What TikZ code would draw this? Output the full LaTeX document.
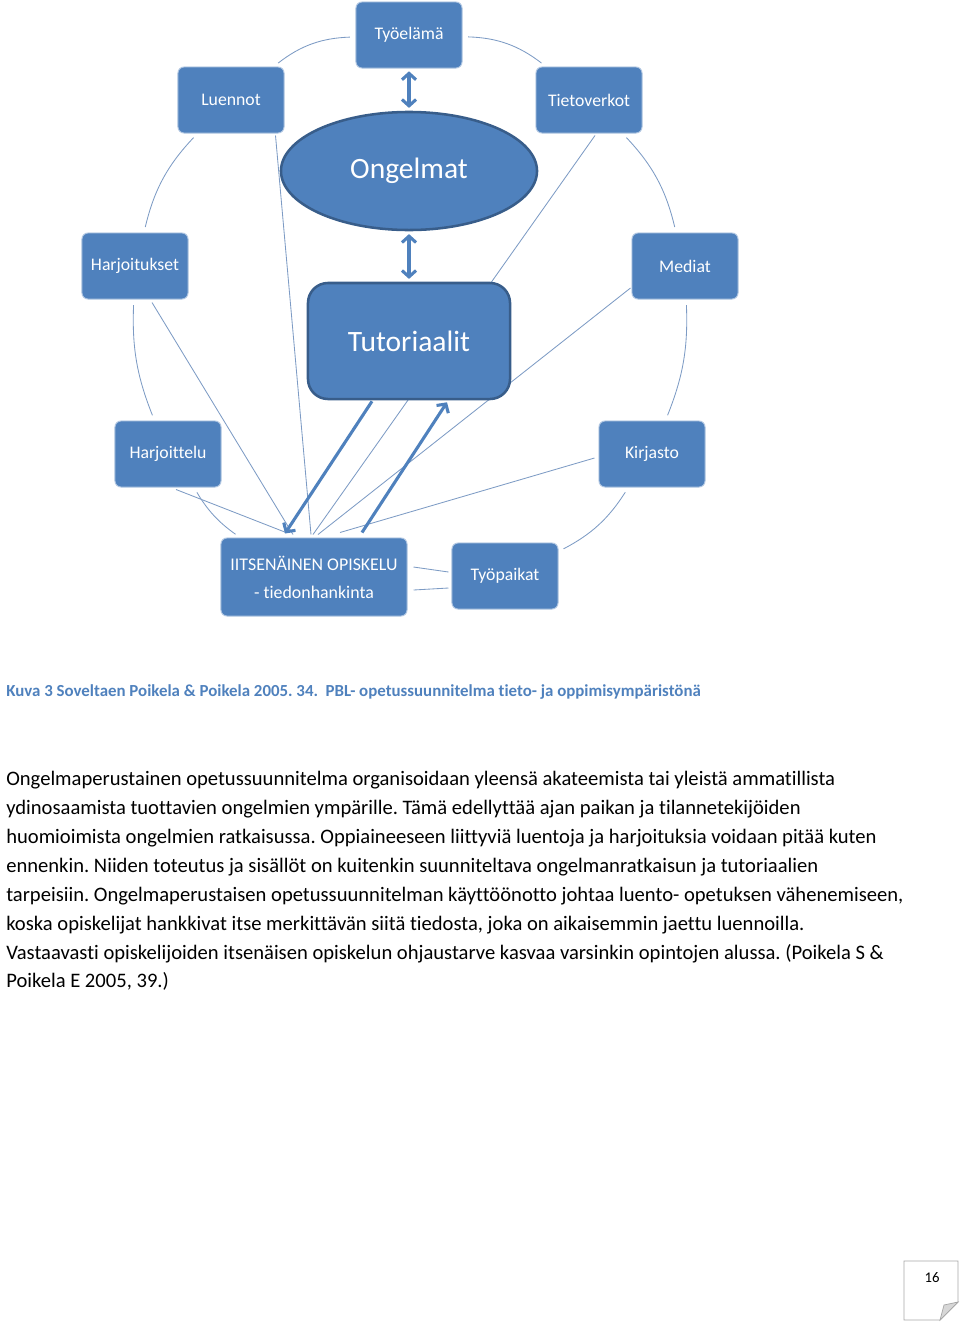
\documentclass[tikz,border=0pt]{standalone}
\usepackage{fontspec}
\setmainfont{Carlito}[Ligatures=CommonOff]
\frenchspacing
\usetikzlibrary{shapes.geometric, arrows.meta, positioning, calc, backgrounds}
\definecolor{boxblue}{HTML}{4F81BD}
\definecolor{edgeblue}{HTML}{385D8A}
\definecolor{ringblue}{HTML}{7D9BC4}
\definecolor{pagegray}{HTML}{A6A6A6}

\begin{document}
\begin{tikzpicture}[%
    x=0.025cm, y=-0.025cm,
    every node/.style={%
      font=\fontsize{12.6}{15}\selectfont
    },
    topic/.style={draw=white!55!boxblue, line width=0.7pt, fill=boxblue,
      rounded corners=0.15cm, text=white, inner sep=0pt,
      minimum width=2.65cm, minimum height=1.65cm},
    core/.style={draw=edgeblue, line width=1.8pt, fill=boxblue, text=white,
      inner sep=0pt, font=\fontsize{21}{24}\selectfont},
    ring/.style={draw=ringblue, line width=0.6pt, shorten >=4pt, shorten <=4pt},
    spoke/.style={draw=ringblue, line width=0.6pt},
    flow/.style={draw=boxblue, line width=2.2pt,
      -{Straight Barb[length=4.5pt,width=10pt]}},
    twoway/.style={draw=boxblue, line width=2.2pt, shorten >=2pt, shorten <=2pt,
      {Straight Barb[length=4.5pt,width=10pt]}-{Straight Barb[length=4.5pt,width=10pt]}},
    body/.style={anchor=west, inner sep=0pt, text height=1.6ex, text depth=0.45ex,
      font=\fontsize{14.65}{17}\selectfont}
  ]
  \useasboundingbox (0,0) rectangle (960,1322);

  \node[topic] (tyoelama) at (409,35) {Työelämä};
  \node[topic] (luennot) at (231,100) {Luennot};
  \node[topic] (tietoverkot) at (589,100) {Tietoverkot};
  \node[topic] (harjoitukset) at (135,266) {Harjoitukset};
  \node[topic] (mediat) at (685,266) {Mediat};
  \node[topic] (harjoittelu) at (168,454) {Harjoittelu};
  \node[topic] (kirjasto) at (652,454) {Kirjasto};
  \node[topic] (tyopaikat) at (505,576) {Työpaikat};
  \node[topic, minimum width=4.65cm, minimum height=1.95cm, align=center,
    font=\fontsize{12.7}{19.9}\selectfont]
    (opiskelu) at (314,577)
    {IITSENÄINEN OPISKELU\\- tiedonhankinta};

  \node[core, ellipse, minimum width=6.4cm, minimum height=2.95cm]
    (ongelmat) at (409,171) {Ongelmat};
  \node[core, rounded corners=0.5cm, minimum width=5.05cm, minimum height=2.9cm]
    (tutoriaalit) at (409,341) {Tutoriaalit};

  \begin{scope}[on background layer]
    % ring
    \draw[ring] (tyoelama) to[bend right=18] (luennot);
    \draw[ring] (luennot) to[bend right=15] (harjoitukset);
    \draw[ring] (harjoitukset) to[bend right=12] (harjoittelu);
    \draw[ring] (harjoittelu) to[bend right=12] (opiskelu);
    \draw[ring] (tyopaikat) to[bend right=15] (kirjasto);
    \draw[ring] (kirjasto) to[bend right=12] (mediat);
    \draw[ring] (mediat) to[bend right=15] (tietoverkot);
    \draw[ring] (tietoverkot) to[bend right=18] (tyoelama);
    \draw[spoke] ($(opiskelu.east)+(6,-10)$) -- ($(tyopaikat.west)+(-3,-4)$);
    \draw[spoke] ($(opiskelu.east)+(6,13)$) -- ($(tyopaikat.west)+(-3,12)$);

    % spokes
    \draw[spoke] ($(luennot.south east)+(-9,2)$) -- ($(opiskelu.north)+(-3,-3)$);
    \draw[spoke] ($(harjoitukset.south)+(17,3)$) -- ($(opiskelu.north)+(-21,-3)$);
    \draw[spoke] ($(harjoittelu.south)+(8,2)$) -- ($(opiskelu.north)+(-28,-5)$);
    \draw[spoke] ($(tietoverkot.south)+(6,2)$) -- ($(opiskelu.north)+(-1,-3)$);
    \draw[spoke] ($(mediat.west)+(-1,22)$) -- ($(opiskelu.north)+(4,-3)$);
    \draw[spoke] ($(kirjasto.west)+(-4,4)$) -- ($(opiskelu.north)+(26,-5)$);
  \end{scope}

  \draw[twoway] (tyoelama) -- (ongelmat);
  \draw[twoway] (ongelmat) -- (tutoriaalit);
  \draw[flow] ($(tutoriaalit.south)+(-37,1)$) -- ($(opiskelu.north)+(-29,-4)$);
  \draw[flow] ($(opiskelu.north)+(48,-5)$) -- ($(tutoriaalit.south)+(38,2)$);

  \node[body, text=boxblue, font=\bfseries\fontsize{12}{14}\selectfont]
    (caption) at (6,693)
    {Kuva 3 Soveltaen Poikela \& Poikela 2005. 34.\ \ PBL- opetussuunnitelma tieto- ja oppimisympäristönä};

  \node[body] (line1) at (6,782)
    {Ongelmaperustainen opetussuunnitelma organisoidaan yleensä akateemista tai yleistä ammatillista};
  \node[body, below=0.7215cm of line1.west, anchor=west] (line2)
    {ydinosaamista tuottavien ongelmien ympärille. Tämä edellyttää ajan paikan ja tilannetekijöiden};
  \node[body, below=0.7215cm of line2.west, anchor=west] (line3)
    {huomioimista ongelmien ratkaisussa. Oppiaineeseen liittyviä luentoja ja harjoituksia voidaan pitää kuten};
  \node[body, below=0.7215cm of line3.west, anchor=west] (line4)
    {ennenkin. Niiden toteutus ja sisällöt on kuitenkin suunniteltava ongelmanratkaisun ja tutoriaalien};
  \node[body, below=0.7215cm of line4.west, anchor=west] (line5)
    {tarpeisiin. Ongelmaperustaisen opetussuunnitelman käyttöönotto johtaa luento- opetuksen vähenemiseen,};
  \node[body, below=0.7215cm of line5.west, anchor=west] (line6)
    {koska opiskelijat hankkivat itse merkittävän siitä tiedosta, joka on aikaisemmin jaettu luennoilla.};
  \node[body, below=0.7215cm of line6.west, anchor=west] (line7)
    {Vastaavasti opiskelijoiden itsenäisen opiskelun ohjaustarve kasvaa varsinkin opintojen alussa. (Poikela S \&};
  \node[body, below=0.7215cm of line7.west, anchor=west] (line8)
    {Poikela E 2005, 39.)};

  % page number
  \draw[pagegray, line width=0.5pt] (904,1261) -- (958,1261) -- (958,1302)
    -- (940,1320) -- (904,1320) -- cycle;
  \draw[pagegray, fill=pagegray!45, line width=0.5pt] (958,1302) -- (940,1320)
    .. controls (942,1312) .. (944,1305) -- cycle;
  \node[font=\fontsize{10.5}{12}\selectfont] (pagenum) at (932,1278) {16};
\end{tikzpicture}
\end{document}
